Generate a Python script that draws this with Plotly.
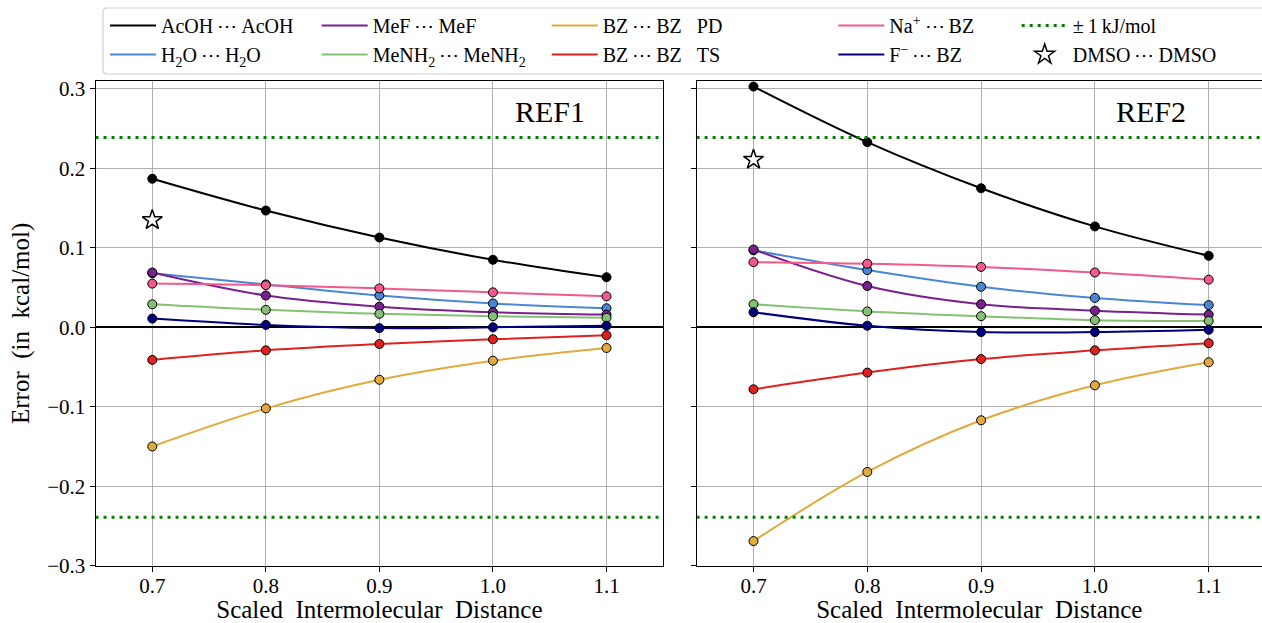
import plotly.graph_objects as go

W, H = 1262, 623
FONT = "Liberation Serif, serif"

x = [0.7, 0.8, 0.9, 1.0, 1.1]

# REF1 errors (kcal/mol)
acoh_1 = [0.187, 0.147, 0.113, 0.085, 0.063]
h2o_1 = [0.068, 0.054, 0.040, 0.030, 0.024]
mef_1 = [0.069, 0.040, 0.026, 0.019, 0.016]
menh2_1 = [0.029, 0.022, 0.017, 0.014, 0.012]
bzpd_1 = [-0.150, -0.102, -0.066, -0.042, -0.026]
bzts_1 = [-0.041, -0.029, -0.021, -0.015, -0.010]
na_1 = [0.055, 0.053, 0.049, 0.044, 0.039]
f_1 = [0.011, 0.003, -0.001, 0.000, 0.002]
dmso_1 = [0.135]

# REF2 errors (kcal/mol)
acoh_2 = [0.303, 0.233, 0.175, 0.127, 0.090]
h2o_2 = [0.097, 0.072, 0.051, 0.037, 0.028]
mef_2 = [0.098, 0.052, 0.029, 0.021, 0.016]
menh2_2 = [0.029, 0.020, 0.014, 0.009, 0.008]
bzpd_2 = [-0.269, -0.182, -0.117, -0.073, -0.044]
bzts_2 = [-0.078, -0.057, -0.040, -0.029, -0.020]
na_2 = [0.082, 0.080, 0.076, 0.069, 0.060]
f_2 = [0.019, 0.002, -0.006, -0.006, -0.003]
dmso_2 = [0.211]
dmso_x = [0.7]

kj_in_kcal = 1 / 4.184
y_ticks = [-0.3, -0.2, -0.1, 0.0, 0.1, 0.2, 0.3]

T = "\u2009"
names = [f"AcOH{T}⋯{T}AcOH", f"H<sub>2</sub>O{T}⋯{T}H<sub>2</sub>O", f"MeF{T}⋯{T}MeF",
         f"MeNH<sub>2</sub>{T}⋯{T}MeNH<sub>2</sub>", f"BZ{T}⋯{T}BZ\u00a0\u00a0\u00a0PD",
         f"BZ{T}⋯{T}BZ\u00a0\u00a0\u00a0TS", f"Na<sup>+</sup>{T}⋯{T}BZ", f"F<sup>−</sup>{T}⋯{T}BZ"]
colors = ["#000000", "#4a86d6", "#7a1f8e", "#84c174", "#e2a93c", "#e0201f", "#f2598a", "#00007f"]
legends = ["legend", "legend", "legend2", "legend2", "legend3", "legend3", "legend4", "legend4"]
ref1 = [acoh_1, h2o_1, mef_1, menh2_1, bzpd_1, bzts_1, na_1, f_1]
ref2 = [acoh_2, h2o_2, mef_2, menh2_2, bzpd_2, bzts_2, na_2, f_2]

fig = go.Figure()

for panel, (data, dmso, xa, ya) in enumerate([(ref1, dmso_1, "x", "y"), (ref2, dmso_2, "x2", "y2")]):
    for i, ys in enumerate(data):
        fig.add_trace(go.Scatter(
            x=x, y=ys, mode="lines", name=names[i], legend=legends[i],
            line=dict(color=colors[i], width=2, shape="spline", smoothing=1),
            showlegend=(panel == 0), xaxis=xa, yaxis=ya, hoverinfo="skip"))
        fig.add_trace(go.Scatter(
            x=x, y=ys, mode="markers", showlegend=False,
            marker=dict(color=colors[i], size=9, line=dict(color="black", width=1)),
            xaxis=xa, yaxis=ya))
    fig.add_trace(go.Scatter(
        x=[0.65, 1.16, None, 0.65, 1.16], y=[kj_in_kcal, kj_in_kcal, None, -kj_in_kcal, -kj_in_kcal],
        mode="lines", name=f"±{T}1{T}kJ/mol", legend="legend5",
        line=dict(color="#008000", width=3, dash="3px,5px"),
        showlegend=(panel == 0), xaxis=xa, yaxis=ya))
    fig.add_trace(go.Scatter(
        x=dmso_x, y=dmso, mode="markers", name=f"DMSO{T}⋯{T}DMSO", legend="legend5",
        marker=dict(symbol="star", size=15, color="white", line=dict(color="black", width=1.5)),
        showlegend=(panel == 0), xaxis=xa, yaxis=ya))

axis_common = dict(
    showgrid=True, gridcolor="#b0b0b0", gridwidth=1,
    showline=True, linecolor="black", linewidth=1,
    ticks="outside", ticklen=5, tickwidth=1, tickcolor="black",
    tickfont=dict(family=FONT, size=21, color="black"),
    automargin=False,
)

x0L, x1L = 95.5 / W, 663.3 / W
x0R = 696.6 / W
yb, yt = (H - 565.7) / H, (H - 81) / H
xr_right = 0.65 + (W - 696.6) / 1138.0

title_font = dict(family=FONT, size=25, color="black")
xtitle = "Scaled\u00a0\u00a0Intermolecular\u00a0\u00a0Distance"

fig.update_layout(
    width=W, height=H,
    margin=dict(l=0, r=0, t=0, b=0, autoexpand=False),
    paper_bgcolor="white", plot_bgcolor="white",
    xaxis=dict(domain=[x0L, x1L], range=[0.65, 1.15], tickvals=x, tickformat=".1f",
               mirror=True, anchor="y", zeroline=False, ticklabelstandoff=-4,
               title=dict(text=xtitle, font=title_font, standoff=6),
               **axis_common),
    yaxis=dict(domain=[yb, yt], range=[-0.3, 0.31], tickvals=y_ticks,
               tickformat=".1f", mirror=True, anchor="x",
               zeroline=True, zerolinecolor="black", zerolinewidth=1.6,
               title=dict(text="Error\u00a0\u00a0(in\u00a0\u00a0kcal/mol)", font=title_font, standoff=10),
               **axis_common),
    xaxis2=dict(domain=[x0R, 1.0], range=[0.65, xr_right], tickvals=x, tickformat=".1f",
                mirror=True, anchor="y2", zeroline=False, ticklabelstandoff=-4,
                title=dict(text=xtitle, font=title_font, standoff=6),
                **axis_common),
    yaxis2=dict(domain=[yb, yt], range=[-0.3, 0.31], matches="y", tickvals=y_ticks,
                showticklabels=False, mirror=False, anchor="x2",
                zeroline=True, zerolinecolor="black", zerolinewidth=1.6,
                **axis_common),
)

# Panel labels
fig.add_annotation(text="REF1", x=1.083, y=0.272, xref="x", yref="y", xanchor="right", yanchor="middle",
                   showarrow=False, font=dict(family=FONT, size=30, color="black"))
fig.add_annotation(text="REF2", x=1.082, y=0.272, xref="x2", yref="y2", xanchor="right", yanchor="middle",
                   showarrow=False, font=dict(family=FONT, size=30, color="black"))

# Legend columns
leg_font = dict(family=FONT, size=20, color="black")
col_px = [105, 316.7, 546.7, 833.3, 1016.7]
leg_keys = ["legend", "legend2", "legend3", "legend4", "legend5"]
for key, px in zip(leg_keys, col_px):
    fig.update_layout(**{key: dict(x=px / W, y=1 - 6 / H, xanchor="left", yanchor="top",
                                   orientation="v", bgcolor="rgba(0,0,0,0)", borderwidth=0,
                                   font=leg_font, tracegroupgap=0, itemwidth=46)})

# Legend frame with rounded corners
lx0, lx1 = 103 / W, 1280 / W
ly0, ly1 = 1 - 74 / H, 1 - 8 / H
rx, ry = 4 / W, 4 / H
path = (f"M {lx0 + rx},{ly1} L {lx1 - rx},{ly1} Q {lx1},{ly1} {lx1},{ly1 - ry} "
        f"L {lx1},{ly0 + ry} Q {lx1},{ly0} {lx1 - rx},{ly0} L {lx0 + rx},{ly0} "
        f"Q {lx0},{ly0} {lx0},{ly0 + ry} L {lx0},{ly1 - ry} Q {lx0},{ly1} {lx0 + rx},{ly1} Z")
fig.add_shape(type="path", path=path, xref="paper", yref="paper",
              line=dict(color="#d0d0d0", width=1.2), fillcolor="rgba(255,255,255,0)", layer="below")

fig.write_html("out.html")
